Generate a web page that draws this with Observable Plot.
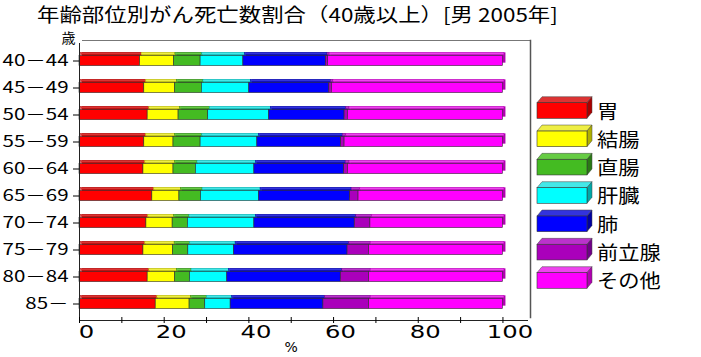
<!DOCTYPE html>
<html><head><meta charset="utf-8">
<script src="https://cdn.jsdelivr.net/npm/d3@7"></script>
<script src="https://cdn.jsdelivr.net/npm/@observablehq/plot@0.6"></script>
<style>
body{margin:0;background:#fff;}
#wrap{position:relative;width:701px;height:357px;overflow:hidden;background:#fff;}
#title{position:absolute;left:37px;top:0;display:inline-block;width:max-content;height:28px;font-family:"Noto Sans CJK JP";font-size:19px;line-height:28px;white-space:nowrap;transform:scaleX(1.18);transform-origin:0 0;color:#000;}
#chart{position:absolute;left:0;top:30px;}
#legend{position:absolute;left:0;top:0;pointer-events:none;}
</style></head><body>
<div id="wrap">
  <div id="title">年齢部位別がん死亡数割合（40歳以上）[男 2005年]</div>
  <div id="chart"></div>
  <svg id="legend" width="701" height="357"></svg>
</div>
<script>
// ---- data ----
const ages = ["40－44","45－49","50－54","55－59","60－64","65－69","70－74","75－79","80－84","85－"];
const sites = ["胃","結腸","直腸","肝臓","肺","前立腺","その他"];
const stomach  = [14.3,15.3,16.1,15.3,15.1,17.2,15.8,15.1,16.1,18.0];
const colon    = [8.0,7.3,7.3,6.9,7.1,6.4,6.2,7.0,6.5,8.0];
const rectum   = [6.3,6.3,7.0,6.4,5.3,5.1,3.6,3.6,3.5,3.7];
const liver    = [10.1,11.2,14.4,13.4,13.8,13.7,15.7,10.8,8.8,6.0];
const lung     = [19.5,18.9,17.8,19.8,21.2,21.5,23.7,26.8,26.8,21.9];
const prostate = [0.5,0.6,0.8,0.8,0.9,2.0,3.7,5.1,6.7,10.8];
const other    = [41.3,40.4,36.6,37.4,36.6,34.1,31.3,31.6,31.6,31.6];
const xTicks = [0,10,20,30,40,50,60,70,80,90,100];
const xLabels = [0,20,40,60,80,100];
const xTitle = "%";
const yTitle = "歳";

const frontColors = ["#ff0000","#ffff00","#44bb22","#00ffff","#0000ff","#aa00bb","#ff00ff"];
const topColors   = ["#dd3333","#eeee44","#66cc44","#44e8e8","#3333dd","#bb33cc","#ee44ee"];
const sideColors  = ["#aa0000","#b0b000","#2a7a14","#00a8a8","#0000a0","#700088","#b000b0"];

const series = [stomach, colon, rectum, liver, lung, prostate, other];
const data = [];
sites.forEach((s, i) => ages.forEach((a, j) => data.push({age: a, site: s, i, value: series[i][j]})));

// ---- layout ----
const H = 327, mT = 13, mB = 37;
const step = (H - mT - mB) / ages.length;
const fh = 11;
const inset = (step - fh) / 2;

const chart = Plot.plot({
  width: 701, height: H,
  marginLeft: 79, marginRight: 174, marginTop: mT, marginBottom: mB,
  x: {domain: [0, 105.8]},
  y: {domain: ages, padding: 0},
  color: {type: "identity"},
  style: {fontFamily: "DejaVu Sans, 'Noto Sans CJK JP'", background: "transparent", color: "#000", overflow: "visible"},
  marks: [
    Plot.frame({anchor: "top", stroke: "#777", dx: 3, dy: -3}),
    Plot.frame({anchor: "right", stroke: "#555", strokeWidth: 1.5, dx: 3, dy: -3}),
    Plot.barX(data, Plot.stackX({x: "value", y: "age", fill: d => sideColors[d.i], dx: 3, dy: -3, insetTop: inset, insetBottom: inset})),
    Plot.barX(data, Plot.stackX({x: "value", y: "age", fill: d => topColors[d.i], stroke: d => sideColors[d.i], strokeWidth: 0.4, dx: 1.5, insetTop: inset - 3, insetBottom: step - inset})),
    Plot.barX(data, Plot.stackX({x: "value", y: "age", fill: d => frontColors[d.i], stroke: "#333", strokeWidth: 0.6, insetTop: inset, insetBottom: inset})),
    Plot.frame({anchor: "left", stroke: "#222"}),
    Plot.frame({anchor: "bottom", stroke: "#222"}),
    Plot.axisY({tickSize: 6, tickPadding: 5, fontSize: 16, label: null}),
    Plot.axisX(xTicks, {tickSize: 6, dy: -3, tickFormat: () => "", label: null}),
    Plot.axisX(xLabels, {tickSize: 0, tickPadding: 5, fontSize: 18, dx: 7, label: null}),
    Plot.text([xTitle], {x: [50], frameAnchor: "bottom", dy: 27, fontSize: 14, textAnchor: "middle", lineAnchor: "middle"}),
    Plot.text([yTitle], {frameAnchor: "top-left", dx: -11, dy: -5, fontSize: 14, textAnchor: "middle", lineAnchor: "middle", fontFamily: "'Noto Sans CJK JP'"})
  ]
});
document.getElementById("chart").appendChild(chart);

function stretch(sel, k) {
  sel.each(function() {
    const w = this.getComputedTextLength();
    if (w > 0) {
      this.setAttribute("textLength", (w * k).toFixed(2));
      this.setAttribute("lengthAdjust", "spacingAndGlyphs");
    }
  });
}
const yl = d3.select(chart).selectAll('g[aria-label="y-axis tick label"] text')
  .attr("font-family", "'Noto Sans CJK JP'").attr("font-size", 16);
stretch(yl, 1.28);
stretch(d3.select(chart).selectAll('g[aria-label="x-axis tick label"] text'), 1.35);

// ---- legend ----
const lg = d3.select("#legend");
const lx = 537, lw = 50, lh = 15.6, ox = 5, oy = 6, ly0 = 102.7, lstep = 28.33;
sites.forEach((s, i) => {
  const T = ly0 + i * lstep;
  const g = lg.append("g");
  g.append("polygon").attr("points", `${lx},${T} ${lx+lw},${T} ${lx+lw+ox},${T-oy} ${lx+ox},${T-oy}`)
    .attr("fill", topColors[i]).attr("stroke", "#444").attr("stroke-width", 0.5);
  g.append("polygon").attr("points", `${lx+lw},${T} ${lx+lw+ox},${T-oy} ${lx+lw+ox},${T+lh-oy} ${lx+lw},${T+lh}`)
    .attr("fill", sideColors[i]).attr("stroke", "#444").attr("stroke-width", 0.5);
  g.append("rect").attr("x", lx).attr("y", T).attr("width", lw).attr("height", lh)
    .attr("fill", frontColors[i]).attr("stroke", "#333").attr("stroke-width", 0.6);
  g.append("text").attr("x", 0).attr("y", 0)
    .attr("transform", `translate(597,${T + lh/2}) scale(1.12,1)`)
    .attr("dominant-baseline", "central")
    .attr("font-family", "'Noto Sans CJK JP'").attr("font-size", 19)
    .text(s);
});
</script>
</body></html>
